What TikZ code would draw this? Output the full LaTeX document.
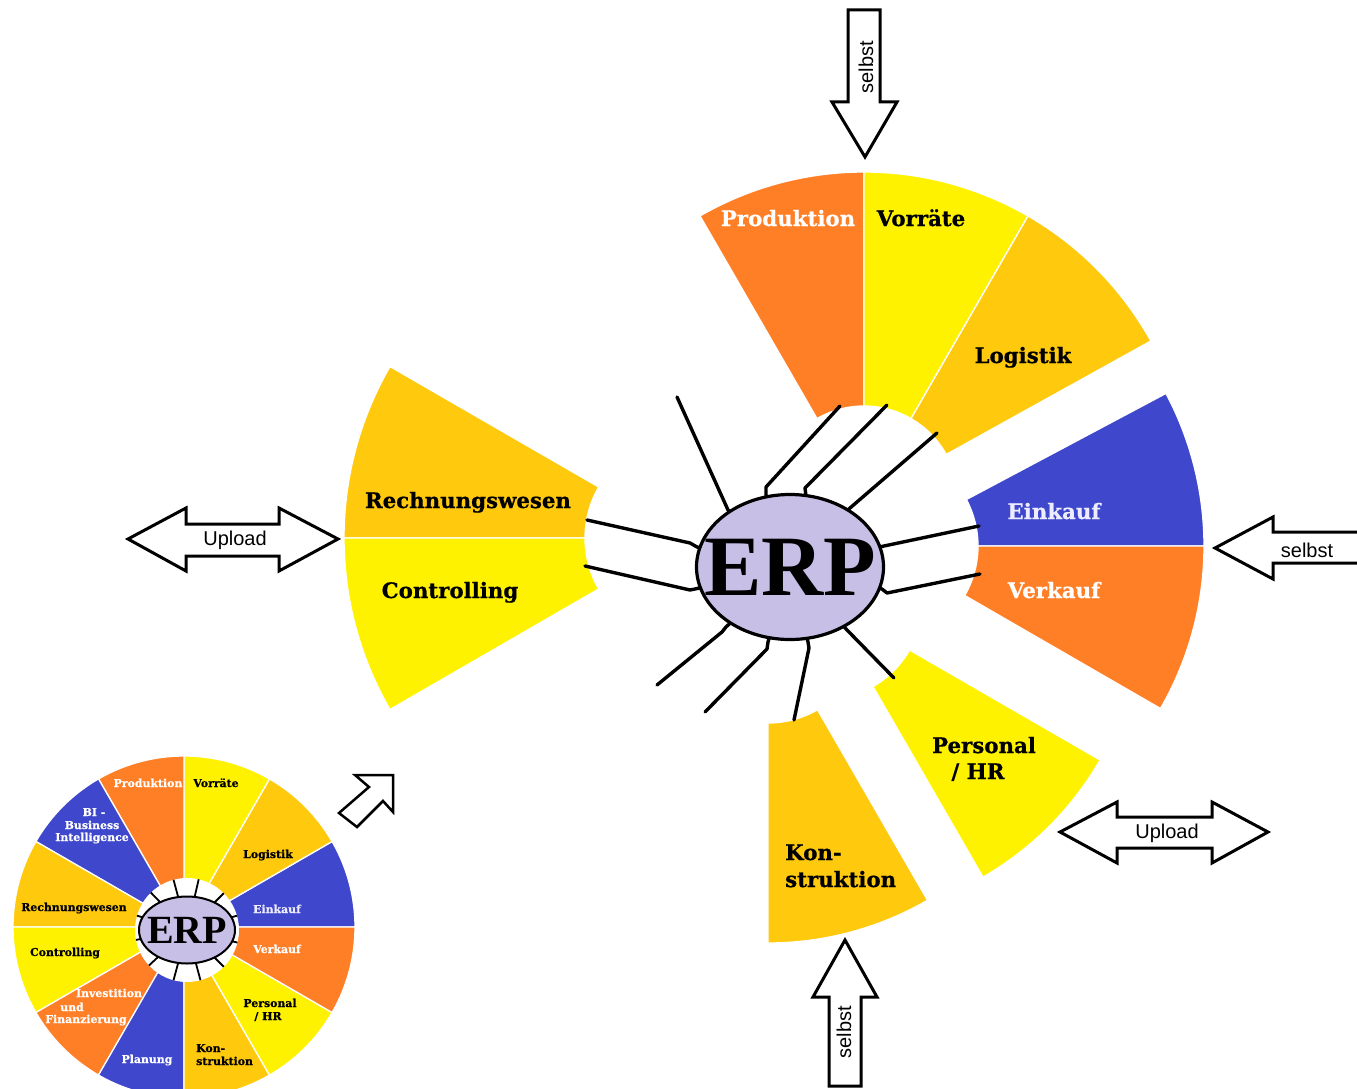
\documentclass[tikz,border=0pt]{standalone}
\usepackage{fontspec}
\setmainfont{DejaVu Serif}[BoldFeatures={FakeBold=0.6}]
\newfontfamily\erpfont{Liberation Serif}
\newfontfamily\arialfont{Liberation Sans}
\usetikzlibrary{shapes.geometric}
\definecolor{porange}{RGB}{255,127,39}
\definecolor{pyellow}{RGB}{255,242,0}
\definecolor{pgold}{RGB}{255,201,14}
\definecolor{pblue}{RGB}{63,72,204}
\definecolor{plav}{RGB}{200,191,231}
\definecolor{pwhite}{RGB}{238,236,255}
\tikzset{
  sectorfill/.style={draw=white, line width=1.3pt},
  biglab/.style={font=\fontsize{21.3}{23}\selectfont\bfseries, inner sep=0pt, anchor=base},
  bigleft/.style={font=\fontsize{21.3}{23}\selectfont\bfseries, inner sep=0pt, anchor=base west},
  smalllab/.style={font=\fontsize{10.9}{11.5}\selectfont\bfseries, inner sep=0pt, anchor=base},
  smallleft/.style={font=\fontsize{10.9}{11.5}\selectfont\bfseries, inner sep=0pt, anchor=base west},
  spoke/.style={line width=3.4pt, line cap=round, line join=round},
  ticks/.style={line width=1.8pt},
  outlinearrow/.style={draw=black, fill=white, line width=3pt, line join=miter},
  arrowtext/.style={font=\arialfont\fontsize{20}{22}\selectfont, inner sep=0pt}
}
\newcommand\annsec[7]{\path[sectorfill, fill=#7] plot[domain=#5:#6,samples=40] ({#1+#4*cos(\x)},{#2+#4*sin(\x)}) -- plot[domain=#6:#5,samples=40] ({#1+#3*cos(\x)},{#2+#3*sin(\x)}) -- cycle;}
\begin{document}
\begin{tikzpicture}[x=1pt,y=-1pt]
\useasboundingbox (0,0) rectangle (1357,1089);
\clip (0,0) rectangle (1357,1089);
% ---------- big exploded wheel ----------
% top group
\annsec{864}{500}{94}{328}{-120}{-90}{porange}
\annsec{864}{500}{94}{328}{-90}{-60}{pyellow}
\annsec{864}{500}{94}{328}{-60}{-29}{pgold}
% right group
\annsec{879}{546}{99}{325}{-28}{0}{pblue}
\annsec{879}{546}{99}{325}{0}{30}{porange}
% left group
\annsec{687}{538}{102}{343}{-180}{-150}{pgold}
\annsec{687}{538}{102}{343}{150}{180}{pyellow}
% bottom
\annsec{768}{624}{99}{319}{60}{90}{pgold}
\annsec{823}{600}{100}{320}{30}{60}{pyellow}

\node[biglab, text=white] (tProd) at (788,226) {Produktion};
\node[biglab] (tVorr) at (921,226) {Vorräte};
\node[biglab] (tLog) at (1023,363) {Logistik};
\node[biglab] (tRech) at (468,508) {Rechnungswesen};
\node[biglab] (tCont) at (450,598) {Controlling};
\node[biglab, text=pwhite] (tEin) at (1054,519) {Einkauf};
\node[biglab, text=white] (tVer) at (1054,598) {Verkauf};
\node[biglab] (tPers) at (984,753) {Personal};
\node[biglab] (tHR) at (978,779) {/ HR};
\node[bigleft] (tKon) at (785,860) {Kon-};
\node[bigleft] (tStr) at (785,887) {struktion};

% spokes
\coordinate (erpc) at (790,567);
\coordinate (o1) at (677,397);  \coordinate (k1) at (728,510);
\coordinate (o2) at (840,406);  \coordinate (k2) at (766,487); \coordinate (b2) at (766,495);
\coordinate (o3) at (887,405);  \coordinate (k3) at (805,488); \coordinate (b3) at (806,496);
\coordinate (o4) at (937,433);  \coordinate (k4) at (850,508);
\coordinate (o5) at (979,526);  \coordinate (k5) at (884,546);
\coordinate (o6) at (980,574);  \coordinate (k6) at (887,593); \coordinate (b6) at (882,589);
\coordinate (o7) at (894,678);  \coordinate (k7) at (847,630);
\coordinate (o8) at (794,720);  \coordinate (k8) at (809,648); \coordinate (b8) at (808,642);
\coordinate (o9) at (705,712);  \coordinate (k9) at (767,649); \coordinate (b9) at (768,642);
\coordinate (o10) at (657,685); \coordinate (k10) at (722,632); \coordinate (b10) at (726,627);
\coordinate (o11) at (587,520); \coordinate (k11) at (690,543); \coordinate (b11) at (697,547);
\coordinate (o12) at (585,566); \coordinate (k12) at (690,590); \coordinate (b12) at (695,589);
\draw[spoke] (o1) -- (k1) -- (erpc);
\draw[spoke] (o2) -- (k2) -- (b2) -- (erpc);
\draw[spoke] (o3) -- (k3) -- (b3) -- (erpc);
\draw[spoke] (o4) -- (k4) -- (erpc);
\draw[spoke] (o5) -- (k5) -- (erpc);
\draw[spoke] (o6) -- (k6) -- (b6) -- (erpc);
\draw[spoke] (o7) -- (k7) -- (erpc);
\draw[spoke] (o8) -- (k8) -- (b8) -- (erpc);
\draw[spoke] (o9) -- (k9) -- (b9) -- (erpc);
\draw[spoke] (o10) -- (k10) -- (b10) -- (erpc);
\draw[spoke] (o11) -- (k11) -- (b11) -- (erpc);
\draw[spoke] (o12) -- (k12) -- (b12) -- (erpc);
\node[ellipse, draw, line width=3.2pt, fill=plav, minimum width=187pt, minimum height=145pt, inner sep=0pt] (erp) at (erpc) {};
\node[inner sep=0pt, font=\erpfont\bfseries\fontsize{86}{88}\selectfont] (erptext) at (erp.center) {ERP};

% ---------- small wheel ----------
\annsec{184}{927}{0}{171}{-30}{0}{pblue}
\annsec{184}{927}{0}{171}{-60}{-30}{pgold}
\annsec{184}{927}{0}{171}{-90}{-60}{pyellow}
\annsec{184}{927}{0}{171}{-120}{-90}{porange}
\annsec{184}{927}{0}{171}{-150}{-120}{pblue}
\annsec{184}{927}{0}{171}{-180}{-150}{pgold}
\annsec{184}{927}{0}{171}{150}{180}{pyellow}
\annsec{184}{927}{0}{171}{120}{150}{porange}
\annsec{184}{927}{0}{171}{90}{120}{pblue}
\annsec{184}{927}{0}{171}{60}{90}{pgold}
\annsec{184}{927}{0}{171}{30}{60}{pyellow}
\annsec{184}{927}{0}{171}{0}{30}{porange}
\coordinate (sc) at (187,930);
\fill[white] (sc) circle[radius=52];
\foreach \t in {-134,-105,-77,-45,-164,169,-16,14,137,105,75,45}
  \draw[ticks] (sc) -- ([shift={(\t:52)}]sc);
\node[ellipse, draw, line width=2pt, fill=plav, minimum width=96pt, minimum height=67pt, inner sep=0pt] (serp) at (sc) {};
\node[inner sep=0pt, font=\erpfont\bfseries\fontsize{40}{42}\selectfont] (serptext) at (serp.center) {ERP};

\node[smalllab, text=white] (sProd) at (148,787) {Produktion};
\node[smalllab] (sVorr) at (216,787) {Vorräte};
\node[smalllab, text=white] (sBI1) at (94,816) {BI -};
\node[smalllab, text=white] (sBI2) at (92,829) {Business};
\node[smalllab, text=white] (sBI3) at (92,841) {Intelligence};
\node[smalllab] (sLog) at (268,858) {Logistik};
\node[smalllab] (sRech) at (74,911) {Rechnungswesen};
\node[smalllab, text=pwhite] (sEin) at (277,913) {Einkauf};
\node[smalllab] (sCont) at (65,956) {Controlling};
\node[smalllab, text=white] (sVer) at (277,953) {Verkauf};
\node[smalllab, text=white] (sInv1) at (109,997) {Investition};
\node[smalllab, text=white] (sInv2) at (72,1011) {und};
\node[smalllab, text=white] (sInv3) at (86,1023) {Finanzierung};
\node[smalllab, text=white] (sPlan) at (147,1063) {Planung};
\node[smalllab] (sPers) at (270,1007) {Personal};
\node[smalllab] (sHR) at (268,1020) {/ HR};
\node[smallleft] (sKon) at (196,1052) {Kon-};
\node[smallleft] (sStr) at (196,1065) {struktion};

% small up-right arrow
\draw[outlinearrow, line width=2.5pt] (393,775) -- (355,775) -- (369,787) -- (339,813) -- (357,827) -- (383,801) -- (393,812) -- cycle;

% ---------- outline arrows ----------
% top selbst
\draw[outlinearrow] (848,10) -- (880,10) -- (880,102) -- (897,102) -- (865,157) -- (832,102) -- (848,102) -- cycle;
\node[arrowtext, rotate=90] (selbstTop) at (866,67) {selbst};
% right selbst
\draw[outlinearrow] (1360,532) -- (1273,532) -- (1273,517) -- (1215,548) -- (1273,579) -- (1273,563) -- (1360,563);
\node[arrowtext] (selbstRight) at (1307,550) {selbst};
% bottom selbst
\draw[outlinearrow] (829,1086) -- (829,997) -- (813,997) -- (845,940) -- (877,997) -- (861,997) -- (861,1086) -- cycle;
\node[arrowtext, rotate=90] (selbstBot) at (844,1032) {selbst};
% left Upload
\draw[outlinearrow] (128,539) -- (186,508) -- (186,524) -- (279,524) -- (279,508) -- (338,539) -- (279,571) -- (279,556) -- (186,556) -- (186,571) -- cycle;
\node[arrowtext] (uploadLeft) at (235,540) {Upload};
% right Upload
\draw[outlinearrow] (1060,832) -- (1117,802) -- (1117,817) -- (1212,817) -- (1212,802) -- (1268,832) -- (1212,863) -- (1212,848) -- (1117,848) -- (1117,863) -- cycle;
\node[arrowtext] (uploadRight) at (1167,833) {Upload};
\end{tikzpicture}
\end{document}
